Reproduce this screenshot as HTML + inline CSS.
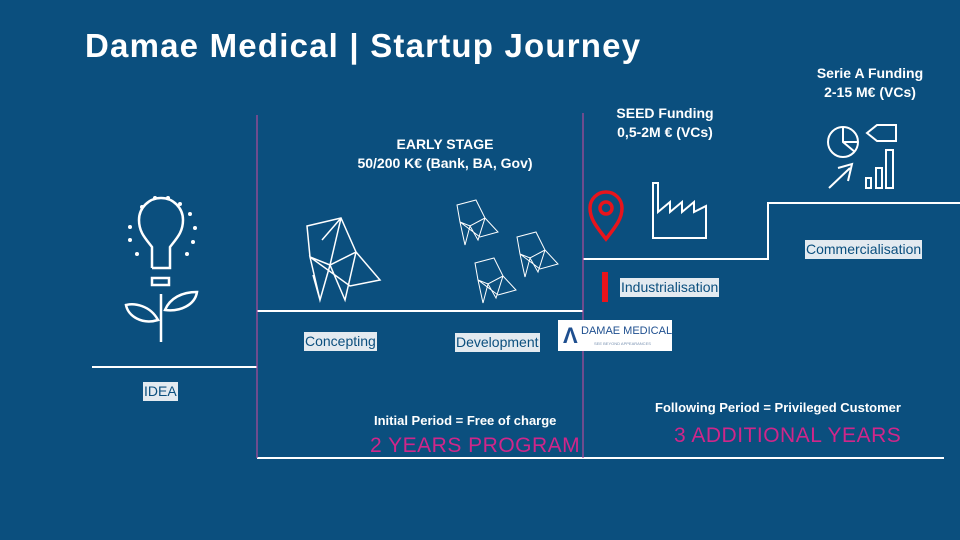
<!DOCTYPE html>
<html><head><style>
body{margin:0;width:960px;height:540px;overflow:hidden;background:#0b4f7e;font-family:"Liberation Sans",sans-serif;position:relative}
.t{position:absolute;color:#fff;white-space:nowrap}
.lab{position:absolute;background:#e3eaf0;color:#0b4f7e;font-size:14px;padding:0 1px;line-height:19px;white-space:nowrap}
.pk{position:absolute;color:#d0268a;font-size:21px;letter-spacing:0.5px;white-space:nowrap}
</style></head><body>
<div class="t" style="left:85px;top:27px;font-size:33px;font-weight:bold;letter-spacing:1.2px">Damae Medical | Startup Journey</div>
<div class="t" style="left:330px;top:135px;font-size:14px;font-weight:bold;text-align:center;width:230px;line-height:19px">EARLY STAGE<br>50/200 K€ (Bank, BA, Gov)</div>
<div class="t" style="left:600px;top:104px;font-size:14px;font-weight:bold;text-align:center;width:130px;line-height:19px">SEED Funding<br>0,5-2M € (VCs)</div>
<div class="t" style="left:800px;top:64px;font-size:14px;font-weight:bold;text-align:center;width:140px;line-height:19px">Serie A Funding<br>2-15 M€ (VCs)</div>
<svg width="960" height="540" style="position:absolute;left:0;top:0" fill="none" stroke="#fff" stroke-width="2">
<path d="M92 367H257M257 311H583M583 259H768V203H960M257 458H944" />
<path d="M257 115V458M583 113V458" stroke="#b04a9a" stroke-width="1.2"/>
<path d="M152 268V247C145 238 139 232 139 220a22 22 0 0 1 44 0c0 12-6 18-13 27V268H152" stroke-width="2.5"/>
<rect x="152" y="278" width="17" height="7" stroke-width="2.5"/>
<path d="M161 294V342M158 320C150 305 134 303 126 305C128 316 142 325 158 320ZM165 310C170 298 182 292 197 292C195 305 180 312 165 310Z" stroke-width="2.5"/>
<g fill="#fff" stroke="none"><circle cx="142" cy="207" r="2"/><circle cx="130" cy="227" r="2"/><circle cx="130" cy="240" r="2"/><circle cx="137" cy="254" r="2"/><circle cx="155" cy="198" r="2"/><circle cx="168" cy="198" r="2"/><circle cx="180" cy="204" r="2"/><circle cx="190" cy="214" r="2"/><circle cx="195" cy="228" r="2"/><circle cx="193" cy="242" r="2"/><circle cx="187" cy="254" r="2"/></g>
<g stroke-width="1.5"><path d="M307 226L341 218L356 252L330 265L310 257ZM310 257L320 300L330 265L345 300L356 252L380 280L350 286ZM322 240L341 218L330 265M313 275L320 300"/></g>
<g stroke-width="1" id="o"><path d="M457 205L476 200L485 218L470 226L460 222ZM460 222L465 245L470 226L478 240L485 218L498 232L480 237Z"/></g>
<use href="#o" x="60" y="32"/><use href="#o" x="18" y="58"/>
<path d="M606 239C595 225 590 218 590 208a16 16 0 0 1 32 0c0 10-5 17-16 31Z" stroke="#e8141c" stroke-width="3.5"/>
<circle cx="606" cy="208" r="6" stroke="#e8141c" stroke-width="3.5"/>
<path d="M605 272V302" stroke="#e8141c" stroke-width="6"/>
<path d="M653 238V183H658V212L670 202V212L682 202V212L694 202V212L706 206V238Z"/>
<circle cx="843" cy="142" r="15"/><path d="M843 127V142L855 152M843 142H858"/>
<path d="M867 133L877 125H896V141H877Z"/>
<rect x="866" y="178" width="5" height="10"/><rect x="876" y="168" width="6" height="20"/><rect x="886" y="150" width="7" height="38"/>
<path d="M829 188L850 168M838 168L852 164L848 181"/>
</svg>
<div class="lab" style="left:143px;top:382px">IDEA</div>
<div class="lab" style="left:304px;top:332px">Concepting</div>
<div class="lab" style="left:455px;top:333px">Development</div>
<div class="lab" style="left:620px;top:278px">Industrialisation</div>
<div class="lab" style="left:805px;top:240px">Commercialisation</div>
<div style="position:absolute;left:558px;top:320px;width:114px;height:31px;background:#fff;white-space:nowrap;overflow:hidden">
<div style="position:absolute;left:5px;top:3px;color:#1e4f8f;font-size:22px;font-weight:bold">Λ</div>
<div style="position:absolute;left:23px;top:5px;color:#1e4f8f;font-size:11px">DAMAE MEDICAL</div>
<div style="position:absolute;left:36px;top:21px;color:#7790b0;font-size:4px">SEE BEYOND APPEARANCES</div></div>
<div class="t" style="left:374px;top:413px;font-size:13px;font-weight:bold">Initial Period = Free of charge</div>
<div class="pk" style="left:370px;top:434px">2 YEARS PROGRAM</div>
<div class="t" style="left:655px;top:400px;font-size:13px;font-weight:bold">Following Period = Privileged Customer</div>
<div class="pk" style="left:674px;top:424px">3 ADDITIONAL YEARS</div>
</body></html>
